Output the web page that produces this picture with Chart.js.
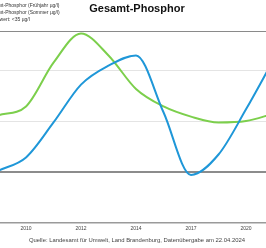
<!DOCTYPE html>
<html><head><meta charset="utf-8">
<script src="https://cdn.jsdelivr.net/npm/chart.js@4"></script>
<style>
html,body{margin:0;padding:0;background:#fff;}
#wrap{position:relative;width:266px;height:248px;overflow:hidden;font-family:"Liberation Sans",Arial,sans-serif;}
#cv{position:absolute;left:-20px;top:0;}
#title{position:absolute;left:0;width:274px;top:2px;text-align:center;font-weight:bold;font-size:11px;line-height:13px;color:#111;}
#legend{position:absolute;left:-14px;top:2px;font-size:5px;line-height:7px;color:#333;white-space:nowrap;}
#sep{position:absolute;left:0;width:266px;top:31px;height:0;border-top:1.5px solid #8a8a8a;}
#source{position:absolute;left:0;width:274px;top:237px;text-align:center;font-size:5.9px;line-height:7px;color:#444;white-space:nowrap;}
</style></head>
<body>
<div id="wrap">
<canvas id="cv" width="310" height="248"></canvas>
<div id="legend"><div>Gesamt-Phosphor (Frühjahr µg/l)</div><div>Gesamt-Phosphor (Sommer µg/l)</div><div>Grenzwert: &lt;35 µg/l</div></div>
<div id="title">Gesamt-Phosphor</div>
<div id="sep"></div>
<div id="source">Quelle: Landesamt für Umwelt, Land Brandenburg, Datenübergabe am 22.04.2024</div>
</div>
<script>
const years = ['2009','2010','2011','2012','2013','2014','2016','2017','2019','2020','2021'];
const fruehjahr = [74,80,110,130,115,92,80,73,69,70,75];
const sommer = [36,45,69,95,108,115,76,33,47,78,112];
const grenzwert = 35;
const tickLabels = ['2010','2012','2014','2017','2020'];
const yMin = 0, yMax = 140, yStep = 35;

new Chart(document.getElementById('cv'), {
  type: 'line',
  data: {
    labels: years,
    datasets: [
      {label:'Gesamt-Phosphor (Sommer µg/l)', data:sommer, borderColor:'#1f97d8', borderWidth:2, pointRadius:0, cubicInterpolationMode:'monotone', fill:false, order:0},
      {label:'Gesamt-Phosphor (Frühjahr µg/l)', data:fruehjahr, borderColor:'#7ccf4c', borderWidth:2, pointRadius:0, cubicInterpolationMode:'monotone', fill:false, order:1},
      {label:'Grenzwert: <35 µg/l', data:years.map(()=>grenzwert), borderColor:'#8c8c8c', borderWidth:2, pointRadius:0, tension:0, fill:false, order:2}
    ]
  },
  options: {
    responsive:false, animation:false, devicePixelRatio:1,
    layout:{padding:{left:18.5, right:16.5, top:19, bottom:13}},
    plugins:{legend:{display:false}, tooltip:{enabled:false}},
    scales:{
      x:{
        grid:{display:false, drawTicks:false, tickLength:0},
        border:{display:true, color:'#9a9a9a', width:1.5},
        ticks:{autoSkip:false, maxRotation:0, minRotation:0, padding:3, color:'#444', font:{size:5, family:'"Liberation Sans", Arial, sans-serif'},
          callback:function(v,i){ const l = this.getLabelForValue(v); return tickLabels.includes(l) ? l : ''; }}
      },
      y:{
        min:yMin, max:yMax,
        ticks:{display:false, stepSize:yStep},
        border:{display:false},
        grid:{drawTicks:false, color:(c)=> (c.tick && (c.tick.value===70 || c.tick.value===105)) ? '#e4e4e4' : 'rgba(0,0,0,0)', lineWidth:1},
        afterFit:(s)=>{s.width=0;}
      }
    }
  }
});
</script>
</body></html>
